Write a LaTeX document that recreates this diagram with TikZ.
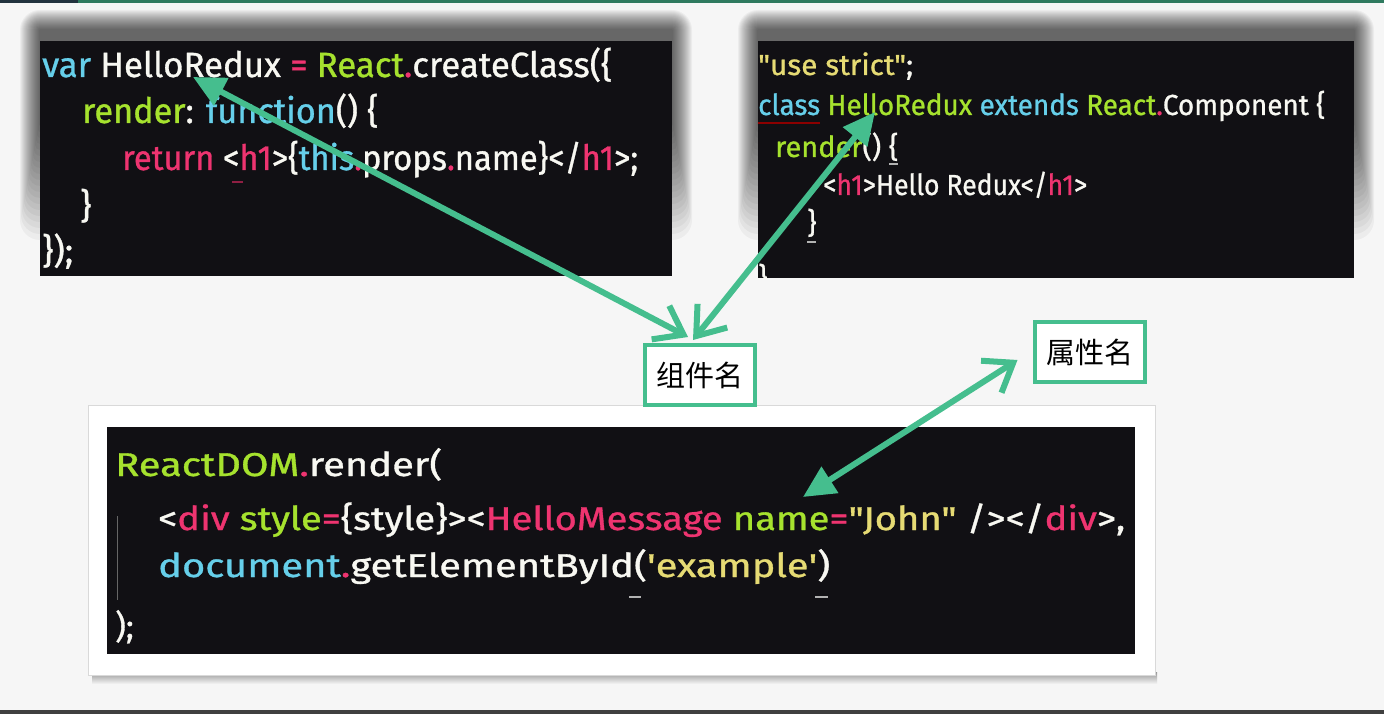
\documentclass[tikz,border=0pt]{standalone}
\usepackage{fontspec}
\usepackage{graphicx}
\usetikzlibrary{arrows.meta}
\newfontfamily\codefont{Fira Sans}[FakeBold=0.9]
\newfontfamily\cjk{Noto Sans CJK SC}
\definecolor{bg}{HTML}{F6F6F6}
\definecolor{codebg}{HTML}{111014}
\definecolor{kblue}{HTML}{66CFEA}
\definecolor{kgreen}{HTML}{A6E22E}
\definecolor{kpink}{HTML}{EE3470}
\definecolor{kyellow}{HTML}{E6DB74}
\definecolor{kwhite}{HTML}{F8F8F2}
\definecolor{chalk}{HTML}{45BE8E}
\definecolor{topgreen}{HTML}{2F7A5F}
\definecolor{topnavy}{HTML}{22323E}
\definecolor{shadowgray}{HTML}{6E6E6E}
\newcommand{\cB}[1]{\textcolor{kblue}{#1}}
\newcommand{\cG}[1]{\textcolor{kgreen}{#1}}
\newcommand{\cP}[1]{\textcolor{kpink}{#1}}
\newcommand{\cY}[1]{\textcolor{kyellow}{#1}}
\newcommand{\fitw}[2]{\resizebox{#1pt}{\height}{#2}}
\newcommand{\sizeL}{\fontsize{35}{40}\selectfont\codefont}
\newcommand{\sizeR}{\fontsize{29}{34}\selectfont\codefont}
\newcommand{\sizeB}{\fontsize{33}{38}\selectfont\codefont}
\tikzset{
  codebox/.style={fill=codebg, draw=none, inner sep=0pt, anchor=north west},
  codeline/.style={anchor=base west, inner sep=0pt, text=kwhite},
  lbl/.style={draw=chalk, line width=4pt, fill=white, inner sep=0pt,
              minimum width=110pt, minimum height=60pt,
              font=\cjk\fontsize{29}{29}\selectfont},
  arr/.style={draw=chalk, line width=6pt},
  headA/.style={arrows={Triangle[length=32pt,width=30pt]-Straight Barb[length=26pt,width=38pt]}},
  headB/.style={arrows={Straight Barb[length=26pt,width=38pt]-Triangle[length=32pt,width=30pt]}},
  tickline/.style={line width=1.5pt},
  blurlayer/.style={fill=black, opacity=0.038}
}
\begin{document}
\begin{tikzpicture}[x=1pt,y=-1pt]
\useasboundingbox (0,0) rectangle (1384,714);
% background
\fill[bg] (0,0) rectangle (1384,714);
\fill[topgreen] (0,0) rectangle (1384,3);
\fill[topnavy] (0,0) rectangle (78,3);
\fill[black!75] (0,710) rectangle (1384,714);
% soft shadows of the top code blocks (stacked layers)
\foreach \i in {1,...,20}{
  \fill[blurlayer, rounded corners=\i] (40-\i,30-\i) rectangle (672+\i,120+6*\i);
  \fill[blurlayer, rounded corners=\i] (758-\i,30-\i) rectangle (1354+\i,120+6*\i);
}
% bottom panel
\shade[top color=shadowgray!70!bg, bottom color=bg] (92,672) rectangle (1157,684);
\node[fill=white, draw=black!15, line width=0.8pt, inner sep=0pt, anchor=north west,
      minimum width=1067pt, minimum height=270pt] (panel) at (88,405) {};

% code blocks
\node[codebox, minimum width=632pt, minimum height=235pt] (left) at (40,41) {};
\node[codebox, minimum width=596pt, minimum height=237pt] (right) at (758,41) {};
\node[codebox, minimum width=1028pt, minimum height=227pt] (bottom) at (107,427) {};

% left code
\node[codeline] (l1) at (42,77) {\fitw{570}{\sizeL\cB{var} HelloRedux \cP{=} \cG{React}\cP{.}createClass(\{}};
\node[codeline] (l2) at (82,123) {\fitw{296}{\sizeL\cG{render}: \cB{function}() \{}};
\node[codeline] (l3) at (122,170) {\fitw{516}{\sizeL\cP{return} <\cP{h1}>\{\cB{this}\cP{.}props\cP{.}name\}</\cP{h1}>;}};
\node[codeline] (l4) at (80,218) {\sizeL\}};
\node[codeline] (l5) at (42,263) {\sizeL\});};
\draw[tickline, kpink!60!black] (232,182) -- (243,182);

% right code (clipped to its block)
\begin{scope}
\clip (758,41) rectangle (1354,278);
\node[codeline] (r1) at (758,75) {\fitw{155}{\sizeR\cY{"use strict"};}};
\node[codeline] (r2) at (758,115) {\fitw{567}{\sizeR\cB{class} \cG{HelloRedux} \cB{extends} \cG{React}\cP{.}Component \{}};
\node[codeline] (r3) at (775,157) {\fitw{123}{\sizeR\cG{render}() \{}};
\node[codeline] (r4) at (823,195) {\fitw{264}{\sizeR<\cP{h1}>Hello Redux</\cP{h1}>}};
\node[codeline] (r5) at (807,233) {\sizeR\}};
\node[codeline] (r6) at (758,288) {\sizeR\}};
\draw[tickline, red!55!black] (758,123) -- (820,123);
\draw[tickline, white!70!black] (889,164) -- (898,164);
\draw[tickline, white!70!black] (807,242) -- (816,242);
\end{scope}

% bottom code
\draw[black!60, line width=0.8pt] (117,516) -- (117,600);
\node[codeline] (b1) at (115,476) {\fitw{327}{\sizeB\cG{ReactDOM}\cP{.}render(}};
\node[codeline] (b2) at (158,530) {\fitw{967}{\sizeB<\cP{div} \cG{style}\cP{=}\{style\}><\cP{HelloMessage} \cG{name}\cP{=}\cY{"John"} /></\cP{div}>,}};
\node[codeline] (b3) at (158,577) {\fitw{672}{\sizeB\cB{document}\cP{.}getElementById(\cY{\textquotesingle example\textquotesingle})}};
\node[codeline] (b4) at (115,638) {\sizeB);};
\draw[tickline, white!70!black] (629,597) -- (641,597);
\draw[tickline, white!70!black] (815,597) -- (828,597);

% labels
\node[lbl] (lab1) at (700,375) {组件名};
\node[lbl] (lab2) at (1089.5,352) {属性名};

% arrow targets in the code
\coordinate (h1) at (193,77);
\coordinate (h2) at (875,112);
\coordinate (h3) at (803,497);

% arrows
\draw[arr, headA] (h1) -- ([xshift=-12pt,yshift=6pt]lab1.north);
\draw[arr, headA] (h2) -- ([xshift=-7pt,yshift=3pt]lab1.north);
\draw[arr, headB] ([xshift=-15pt,yshift=-8pt]lab2.west) -- (h3);
\end{tikzpicture}
\end{document}
